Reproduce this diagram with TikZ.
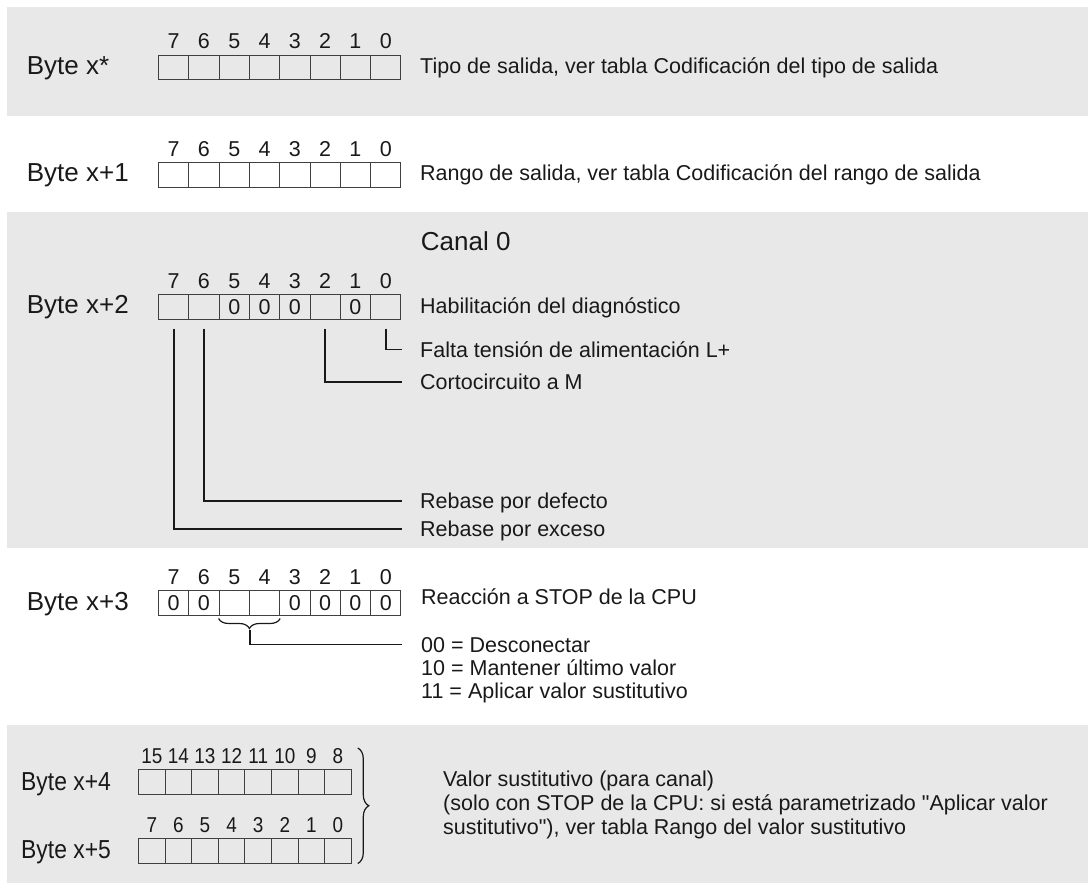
\documentclass[tikz,border=0pt]{standalone}
\usepackage{fontspec}
\setmainfont{Liberation Sans}[Ligatures=TeXOff]
\usetikzlibrary{decorations.pathreplacing}

\newcommand{\labelfont}{\fontsize{26}{31}\selectfont}
\newcommand{\descfont}{\fontsize{21.5}{26}\selectfont}
\newcommand{\narrow}[1]{\scalebox{0.88}[1]{#1}}

\tikzset{
  band/.style={fill=black!9, draw=none},
  bitcell/.style={draw=black!75, line width=1pt, minimum height=24.5pt, inner sep=0pt, anchor=north west, font=\descfont},
  bitnum/.style={anchor=base, inner sep=0pt, font=\descfont},
  bytelabel/.style={anchor=base west, inner sep=0pt, font=\labelfont},
  desc/.style={anchor=base west, inner sep=0pt, text height=15pt, text depth=0pt, font=\descfont},
  leader/.style={line width=1.8pt},
}

% one byte: name, left x, top y, cell width, highest bit, cell contents, number wrapper
\newcommand{\bytecells}[7]{%
  \foreach \c [count=\k from 0] in {#6} {
    \pgfmathtruncatemacro{\bit}{#5-\k}
    \node[bitcell, minimum width=#4pt] (#1b\bit) at ({#2+\k*#4}, #3) {\c};
    \node[bitnum] (#1n\bit) at ([yshift=6pt]#1b\bit.north) {#7{\bit}};
  }
}

\begin{document}
\begin{tikzpicture}[x=1pt, y=-1pt, color=black!90]
\useasboundingbox (0,0) rectangle (1088,883);
\fill[band] (7,7) rectangle (1088,116);
\fill[band] (7,212) rectangle (1088,548);
\fill[band] (7,725) rectangle (1088,883);

% Byte x*
\node[bytelabel] (lx0) at (26.7,75) {Byte x*};
\bytecells{x0}{158}{55}{30.3}{7}{{},{},{},{},{},{},{},{}}{}
\node[desc] (tipo) at (420,74) {Tipo de salida, ver tabla Codificación del tipo de salida};

% Byte x+1
\node[bytelabel] (lx1) at (26.7,181.5) {Byte x+1};
\bytecells{x1}{158}{162}{30.3}{7}{{},{},{},{},{},{},{},{}}{}
\node[desc] (rango) at (420,180.5) {Rango de salida, ver tabla Codificación del rango de salida};

% Byte x+2
\node[desc, font=\labelfont] (canal) at (420.7,250.7) {Canal 0};
\node[bytelabel] (lx2) at (26.7,313) {Byte x+2};
\bytecells{x2}{158}{294}{30.3}{7}{{},{},0,0,0,{},0,{}}{}
\node[desc] (habil) at (420,313) {Habilitación del diagnóstico};
\node[desc] (falta) at (420,357) {Falta tensión de alimentación L+};
\node[desc] (corto) at (420,389.5) {Cortocircuito a M};
\node[desc] (defecto) at (420,508.5) {Rebase por defecto};
\node[desc] (exceso) at (420,536.5) {Rebase por exceso};
\draw[leader] ([yshift=-9pt]x2b0.south) |- ([xshift=-18pt]falta.west);
\draw[leader] ([yshift=-9pt]x2b2.south) |- ([xshift=-18pt]corto.west);
\draw[leader] ([yshift=-9pt]x2b6.south) |- ([xshift=-18pt]defecto.west);
\draw[leader] ([yshift=-9pt]x2b7.south) |- ([xshift=-18pt]exceso.west);

% Byte x+3
\node[bytelabel] (lx3) at (26.7,610) {Byte x+3};
\bytecells{x3}{158}{590}{30.3}{7}{0,0,{},{},0,0,0,0}{}
\node[desc] (stop) at (421,604) {Reacción a STOP de la CPU};
\node[desc] (d00) at (421,652) {00 = Desconectar};
\node[desc] (d10) at (421,675) {10 = Mantener último valor};
\node[desc] (d11) at (421,698) {11 = Aplicar valor sustitutivo};
\draw[decorate, decoration={brace, mirror, amplitude=10pt}, line width=1.2pt] ([yshift=-3pt]x3b5.south west) -- ([yshift=-3pt]x3b4.south east);
\draw[leader] ([yshift=-14pt]x3b5.south east) |- ([xshift=-19pt]d00.west);

% Byte x+4 / x+5
\node[bytelabel] (lx4) at (21,790) {\narrow{Byte x+4}};
\bytecells{x4}{138}{769}{26.6}{15}{{},{},{},{},{},{},{},{}}{\narrow}
\node[bytelabel] (lx5) at (21,858) {\narrow{Byte x+5}};
\bytecells{x5}{138}{838}{26.6}{7}{{},{},{},{},{},{},{},{}}{\narrow}
\draw[decorate, decoration={brace, amplitude=11pt}, line width=1.2pt] ([xshift=6pt,yshift=21pt]x4b8.north east) -- ([xshift=6pt]x5b0.south east);
\node[desc] (sust1) at (443,786) {Valor sustitutivo (para canal)};
\node[desc] (sust2) at (443,810) {(solo con STOP de la CPU: si está parametrizado "Aplicar valor};
\node[desc] (sust3) at (443,834) {sustitutivo"), ver tabla Rango del valor sustitutivo};
\end{tikzpicture}
\end{document}
